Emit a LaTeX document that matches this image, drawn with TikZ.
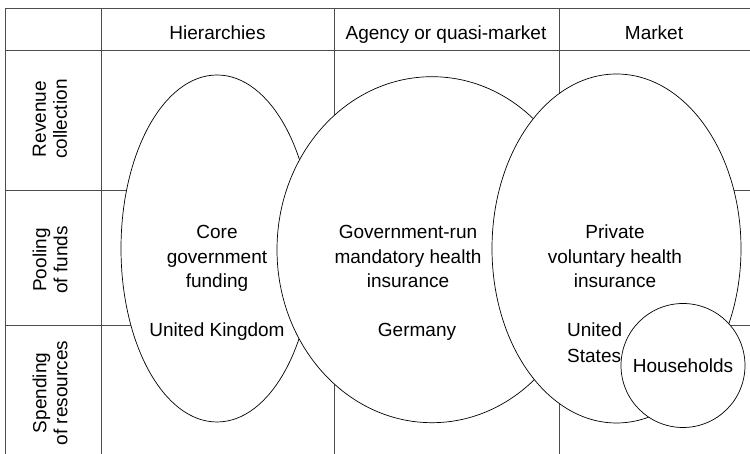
\documentclass[tikz,border=0pt]{standalone}
\usepackage{fontspec}
\setmainfont{Liberation Sans}
\usetikzlibrary{shapes.geometric}
\begin{document}
\begin{tikzpicture}[x=1pt,y=1pt,
  gridline/.style={draw=black!70, line width=0.8pt},
  oval/.style={draw=black, line width=0.7pt, fill=white, inner sep=0pt},
  lbl/.style={font=\fontsize{19}{24.5}\selectfont, align=center, inner sep=0pt},
  side/.style={font=\fontsize{19}{21}\selectfont, align=center, inner sep=0pt, rotate=90}]
\useasboundingbox (0,0) rectangle (750,454);
% grid
\draw[gridline] (5,446) -- (750,446);
\draw[gridline] (5,404) -- (750,404);
\draw[gridline] (5,264) -- (750,264);
\draw[gridline] (5,129) -- (750,129);
\draw[gridline] (5,446) -- (5,0);
\draw[gridline] (101,446) -- (101,0);
\draw[gridline] (334,446) -- (334,0);
\draw[gridline] (559,446) -- (559,0);
% headers
\node[lbl, anchor=base] (h1) at (217.5,414) {Hierarchies};
\node[lbl, anchor=base] (h2) at (446,414) {Agency or quasi-market};
\node[lbl, anchor=base] (h3) at (654,414) {Market};
% side labels
\node[side] (r1) at (50,335) {Revenue\\collection};
\node[side] (r2) at (50,194) {Pooling\\of funds};
\node[side] (r3) at (50,61) {Spending\\of resources};
% ovals
\node[oval, ellipse, minimum width=192, minimum height=347] (hier) at (217,205.5) {};
\node[oval, ellipse, minimum width=310, minimum height=346] (agency) at (432,204.3) {};
\node[oval, ellipse, minimum width=249, minimum height=349] (market) at (616.5,205.5) {};
\node[oval, circle, minimum size=124, font=\fontsize{19}{24}\selectfont] (hh) at (683,88.5) {Households};
% texts
\node[lbl, anchor=base] (t1) at (217,166) {Core\\government\\funding};
\node[lbl, anchor=base] (c1) at (217,117) {United Kingdom};
\node[lbl, anchor=base] (t2) at (408,166) {Government-run\\mandatory health\\insurance};
\node[lbl, anchor=base] (c2) at (417,117) {Germany};
\node[lbl, anchor=base] (t3) at (615,166) {Private\\voluntary health\\insurance};
\node[lbl, anchor=base west, align=left, font=\fontsize{19}{26}\selectfont] (c3) at (567,91) {United\\States};
\end{tikzpicture}
\end{document}
